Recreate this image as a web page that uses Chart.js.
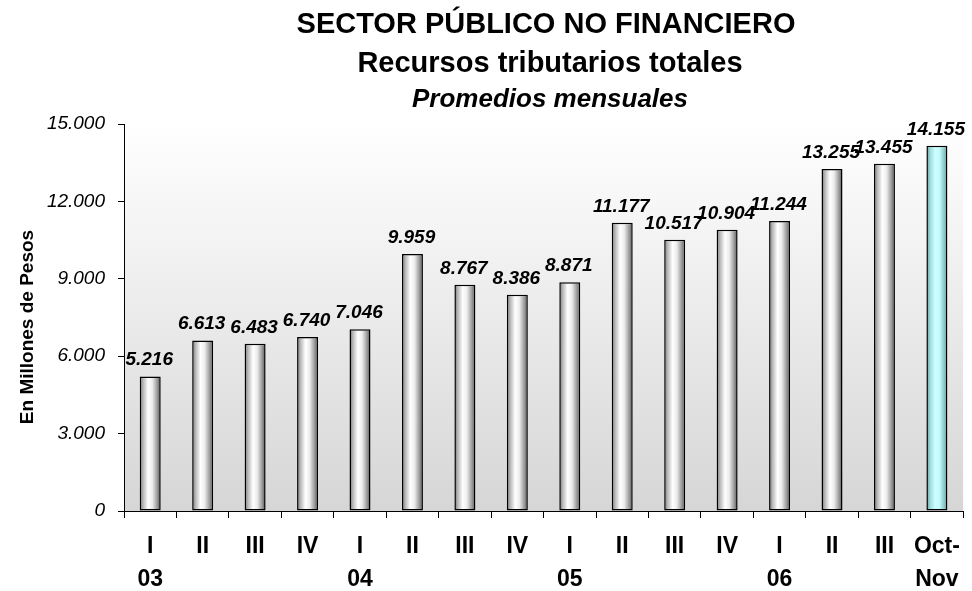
<!DOCTYPE html>
<html><head><meta charset="utf-8">
<script src="https://cdn.jsdelivr.net/npm/chart.js@4/dist/chart.umd.min.js"></script>
<style>html,body{margin:0;padding:0;background:#fff;overflow:hidden}#wrap{width:972px;height:591px}</style>
</head><body><div id="wrap"><canvas id="c" width="972" height="591"></canvas></div>
<script>
const categories = [['I','03'],['II',''],['III',''],['IV',''],['I','04'],['II',''],['III',''],['IV',''],['I','05'],['II',''],['III',''],['IV',''],['I','06'],['II',''],['III',''],['Oct-','Nov']];
const values = [5216,6613,6483,6740,7046,9959,8767,8386,8871,11177,10517,10904,11244,13255,13455,14155];
const highlighted = [false,false,false,false,false,false,false,false,false,false,false,false,false,false,false,true];
const yTickValues = [0,3000,6000,9000,12000,15000];
const yTickLabels = ['0','3.000','6.000','9.000','12.000','15.000'];
const titleLines = ['SECTOR PÚBLICO NO FINANCIERO','Recursos tributarios totales','Promedios mensuales'];
const yAxisTitle = 'En Millones de Pesos';

const FONT = '"Liberation Sans", Arial, sans-serif';
const BAR_PCT = 0.4;

function fmt(v){ return String(v).replace(/\B(?=(\d{3})+(?!\d))/g,'.'); }

function barFill(ctx){
  const chart = ctx.chart, xs = chart.scales && chart.scales.x;
  if (ctx.type !== 'data' || !xs || !chart.chartArea) return '#dddddd';
  const i = ctx.dataIndex;
  const cx = xs.getPixelForValue(i);
  const w = xs.width / categories.length * BAR_PCT;
  const g = chart.ctx.createLinearGradient(cx - w/2, 0, cx + w/2, 0);
  if (highlighted[i]) {
    g.addColorStop(0, '#5f9a9a');
    g.addColorStop(0.18, '#9fdcdc');
    g.addColorStop(0.42, '#ccffff');
    g.addColorStop(0.62, '#c4fafa');
    g.addColorStop(0.85, '#8cc8c8');
    g.addColorStop(1, '#5a8e8e');
  } else {
    g.addColorStop(0, '#6a6a6a');
    g.addColorStop(0.15, '#b4b4b4');
    g.addColorStop(0.4, '#ffffff');
    g.addColorStop(0.6, '#ececec');
    g.addColorStop(0.85, '#959595');
    g.addColorStop(1, '#4e4e4e');
  }
  return g;
}

const decor = {
  id: 'decor',
  beforeDraw(chart){
    const {ctx, chartArea:a} = chart;
    const g = ctx.createLinearGradient(0, a.top, 0, a.bottom);
    g.addColorStop(0, '#ffffff');
    g.addColorStop(1, '#d6d6d6');
    ctx.save();
    ctx.fillStyle = g;
    ctx.fillRect(a.left, a.top, a.right - a.left, a.bottom - a.top);
    ctx.restore();
  },
  afterDatasetsDraw(chart){
    const ctx = chart.ctx;
    const meta = chart.getDatasetMeta(0);
    ctx.save();
    ctx.fillStyle = '#000';
    ctx.textAlign = 'center';
    ctx.textBaseline = 'alphabetic';
    ctx.font = 'italic bold 19px ' + FONT;
    meta.data.forEach((el, i) => {
      ctx.fillText(fmt(values[i]), el.x - 1, el.y - 11);
    });
    ctx.restore();
  },
  afterDraw(chart){
    const ctx = chart.ctx;
    ctx.save();
    ctx.fillStyle = '#000';
    ctx.textAlign = 'center';
    ctx.textBaseline = 'alphabetic';
    ctx.font = 'bold 29px ' + FONT;
    ctx.fillText(titleLines[0], 546, 33);
    ctx.fillText(titleLines[1], 550, 72);
    ctx.font = 'italic bold 26px ' + FONT;
    ctx.fillText(titleLines[2], 550, 107);
    ctx.translate(33, 327);
    ctx.rotate(-Math.PI/2);
    ctx.font = 'bold 19px ' + FONT;
    ctx.fillText(yAxisTitle, 0, 0);
    ctx.restore();
  }
};

new Chart(document.getElementById('c'), {
  type: 'bar',
  data: {
    labels: categories,
    datasets: [{
      data: values,
      backgroundColor: barFill,
      borderColor: '#000',
      borderWidth: 1.5,
      borderSkipped: false,
      barPercentage: BAR_PCT,
      categoryPercentage: 1
    }]
  },
  options: {
    responsive: false,
    animation: false,
    devicePixelRatio: 1,
    layout: { padding: { top: 124, right: 3, left: 0, bottom: 0 } },
    plugins: { legend: { display: false }, tooltip: { enabled: false }, title: { display: false } },
    scales: {
      x: {
        afterFit(s){ s.height = 80; },
        border: { display: true, color: '#000', width: 1 },
        grid: { display: true, offset: true, drawOnChartArea: false, drawTicks: true, tickLength: 7, color: '#000', lineWidth: 1 },
        ticks: { color: '#000', padding: 12, maxRotation: 0, autoSkip: false,
                 font: { family: FONT, size: 23, weight: 'bold', lineHeight: 1.43 } }
      },
      y: {
        min: 0, max: 15000,
        afterFit(s){ s.width = 124; },
        border: { display: true, color: '#000', width: 1 },
        grid: { display: true, drawOnChartArea: false, drawTicks: true, tickLength: 6, color: '#000', lineWidth: 1 },
        ticks: { stepSize: 3000, color: '#000', padding: 13,
                 font: { family: FONT, size: 19, style: 'italic' },
                 callback(v){ const k = yTickValues.indexOf(v); return k >= 0 ? yTickLabels[k] : ''; } }
      }
    }
  },
  plugins: [decor]
});
</script>
</body></html>
